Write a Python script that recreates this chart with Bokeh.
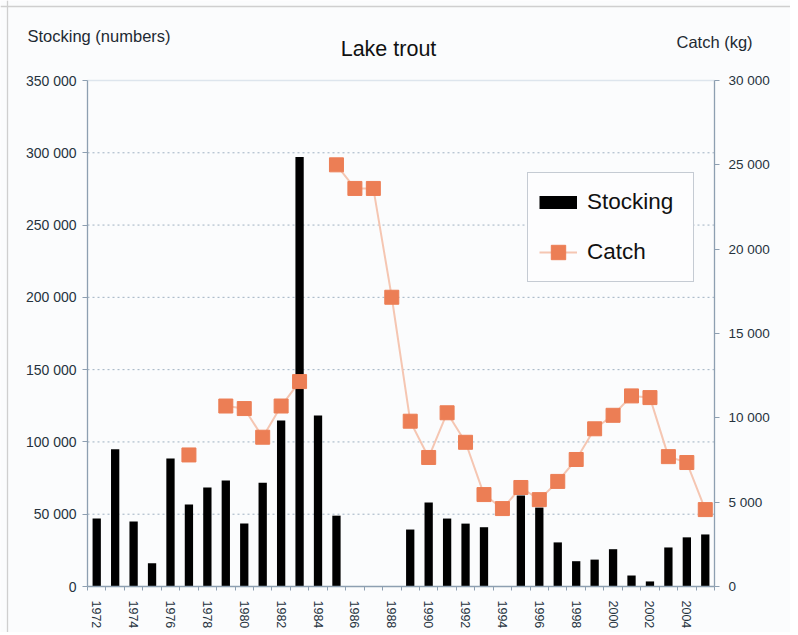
from bokeh.plotting import figure
from bokeh.models import (Range1d, LinearAxis, FixedTicker, Legend, LegendItem,
                          Label, Span, ColumnDataSource)
from bokeh.embed import file_html
from bokeh.resources import INLINE

nan = float("nan")

years = list(range(1972, 2006))
stocking = [47000, 95000, 45000, 16000, 88500, 56700, 68500, 73400, 43500, 71700,
            114800, 297000, 118300, 49000, 0, 0, 0, 39400, 58100, 47000,
            43500, 41000, 0, 63000, 54600, 30500, 17500, 18600, 25800, 7600,
            3500, 27000, 34000, 36000]
catch = [nan, nan, nan, nan, nan, 7800, nan, 10700, 10550, 8850,
         10700, 12150, nan, 25000, 23600, 23600, 17150, 9800, 7650, 10300,
         8550, 5450, 4620, 5870, 5150, 6230, 7530, 9350, 10150, 11300,
         11200, 7700, 7350, 4560]

left_ticks = [0, 50000, 100000, 150000, 200000, 250000, 300000, 350000]
left_labels = ["0", "50 000", "100 000", "150 000", "200 000", "250 000", "300 000", "350 000"]
right_ticks = [0, 5000, 10000, 15000, 20000, 25000, 30000]
right_labels = ["0", "5 000", "10 000", "15 000", "20 000", "25 000", "30 000"]

title_text = "Lake trout"
left_title = "Stocking (numbers)"
right_title = "Catch (kg)"

FONT = "Liberation Sans"
AXIS_COL = "#8d9fb1"
TICK_TXT = "#26333d"
BG = "#fbfcfd"

# canvas geometry (pixels); the data frame covers the whole canvas and the
# axes are drawn at fixed locations so that titles outside the plot area show
W, H = 790, 632
FL, FR, FT, FB = 87, 714, 80, 586
n = len(years)
ux = n / (FR - FL)
x0 = -0.5 - FL * ux
x1 = (n - 0.5) + (W - FR) * ux
uy = (left_ticks[-1] - left_ticks[0]) / (FB - FT)
y0 = left_ticks[0] - (H - FB) * uy
y1 = left_ticks[-1] + FT * uy
uc = (right_ticks[-1] - right_ticks[0]) / (FB - FT)
c0 = right_ticks[0] - (H - FB) * uc
c1 = right_ticks[-1] + FT * uc


def dx(px):
    return x0 + px * ux


def dy(py):
    return y1 - py * uy


idx = list(range(n))
src = ColumnDataSource(dict(x=idx, year=years, stocking=stocking, catch=catch))

p = figure(width=W, height=H, output_backend="svg", toolbar_location=None,
           x_range=Range1d(x0, x1), y_range=Range1d(y0, y1), min_border=0)
p.extra_y_ranges = {"catch": Range1d(c0, c1)}
p.title.visible = False
p.background_fill_color = BG
p.border_fill_color = BG
p.outline_line_color = None
p.grid.grid_line_color = None

# horizontal grid lines (dotted) and top frame line, spanning the category band
grid_y = left_ticks[1:-1]
p.segment(x0=[-0.5] * len(grid_y), x1=[n - 0.5] * len(grid_y), y0=grid_y, y1=grid_y,
          line_color="#9fb1c2", line_width=1, line_dash="2 3")
p.segment(x0=[-0.5], x1=[n - 0.5], y0=[left_ticks[-1]], y1=[left_ticks[-1]],
          line_color="#dde5ed", line_width=1.3)

bars = p.vbar(x="x", top="stocking", width=0.45, source=src,
              fill_color="black", line_color=None)
ln = p.line(x="x", y="catch", source=src, y_range_name="catch",
            line_color="#f5c6b2", line_width=2)
sc = p.scatter(x="x", y="catch", source=src, y_range_name="catch", marker="square",
               size=14, fill_color="#ec7e55", line_color="#ec7e55")

# x axis
xa = p.xaxis[0]
xa.fixed_location = left_ticks[0]
xa.bounds = (-0.5, n - 0.5)
xa.ticker = FixedTicker(ticks=[i for i, y in zip(idx, years) if y % 2 == 0],
                        minor_ticks=[i - 0.5 for i in range(n + 1)])
xa.major_label_overrides = {i: str(y) for i, y in zip(idx, years) if y % 2 == 0}
xa.major_label_orientation = "vertical"
xa.major_tick_line_color = None
xa.major_tick_out = 0
xa.major_tick_in = 0
xa.minor_tick_out = 4
xa.minor_tick_in = 0
xa.minor_tick_line_color = AXIS_COL
xa.axis_line_color = AXIS_COL
xa.axis_line_width = 1.3
xa.major_label_standoff = 10
xa.major_label_text_font = FONT
xa.major_label_text_font_size = "12.5px"
xa.major_label_text_color = TICK_TXT

# left axis
ya = p.yaxis[0]
ya.fixed_location = -0.5
ya.bounds = (left_ticks[0], left_ticks[-1])
ya.ticker = FixedTicker(ticks=left_ticks)
ya.major_label_overrides = {t: l for t, l in zip(left_ticks, left_labels)}
ya.minor_tick_line_color = None
ya.major_tick_out = 5
ya.major_tick_in = 0
ya.major_tick_line_color = AXIS_COL
ya.axis_line_color = AXIS_COL
ya.axis_line_width = 1.3
ya.major_label_standoff = 6
ya.major_label_text_font = FONT
ya.major_label_text_font_size = "14px"
ya.major_label_text_color = TICK_TXT

# right axis
ra = LinearAxis(y_range_name="catch", ticker=FixedTicker(ticks=right_ticks),
                fixed_location=n - 0.5, bounds=(right_ticks[0], right_ticks[-1]))
ra.major_label_overrides = {t: l for t, l in zip(right_ticks, right_labels)}
ra.minor_tick_line_color = None
ra.major_tick_out = 5
ra.major_tick_in = 0
ra.major_tick_line_color = AXIS_COL
ra.axis_line_color = AXIS_COL
ra.axis_line_width = 1.3
ra.major_label_standoff = 9
ra.major_label_text_font = FONT
ra.major_label_text_font_size = "13.5px"
ra.major_label_text_color = TICK_TXT
p.add_layout(ra, "right")

# titles
p.add_layout(Label(x=dx(27), y=dy(35), text=left_title, text_font=FONT,
                   text_font_size="16.5px", text_color="#1e2a33",
                   text_baseline="middle", text_align="left"))
p.add_layout(Label(x=dx(388), y=dy(48), text=title_text, text_font=FONT,
                   text_font_size="21.5px", text_color="#111111",
                   text_baseline="middle", text_align="center"))
p.add_layout(Label(x=dx(676), y=dy(41), text=right_title, text_font=FONT,
                   text_font_size="16.5px", text_color="#1e2a33",
                   text_baseline="middle", text_align="left"))

# outer chart border (top and left edges)
p.add_layout(Span(location=dy(6), dimension="width", line_color="#cfcfcf", line_width=1.3))
p.add_layout(Span(location=dx(7), dimension="height", line_color="#cfcfcf", line_width=1.3))

# legend (proxy thick line for the bar swatch)
proxy = p.line(x=[0], y=[nan], line_color="black", line_width=13, line_cap="butt")
legend = Legend(items=[LegendItem(label="Stocking", renderers=[proxy]),
                       LegendItem(label="Catch", renderers=[ln, sc])],
                location=(527, H - 282), orientation="vertical",
                glyph_width=38, glyph_height=36, label_height=36, label_width=95,
                label_standoff=10, padding=11, spacing=14, margin=0,
                label_text_font=FONT, label_text_font_size="22.5px",
                label_text_color="#111111",
                border_line_color="#8d9aa8", border_line_width=1.3,
                background_fill_color="#fdfdfe", background_fill_alpha=1)
p.add_layout(legend, "center")

open("out.html", "w").write(file_html(p, INLINE))
